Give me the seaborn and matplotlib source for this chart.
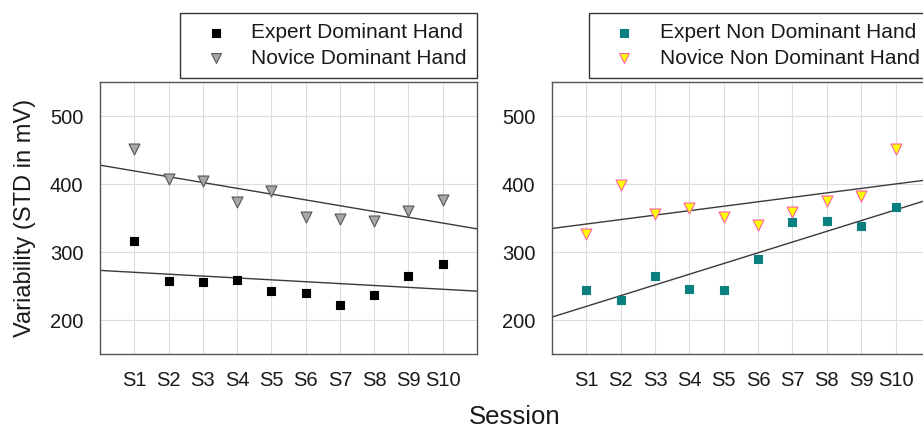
import matplotlib
matplotlib.use('Agg')
import matplotlib.pyplot as plt
import seaborn as sns
import numpy as np
import pandas as pd

# Datos
sessions = ['S1', 'S2', 'S3', 'S4', 'S5', 'S6', 'S7', 'S8', 'S9', 'S10']
session_num = [1, 2, 3, 4, 5, 6, 7, 8, 9, 10]
expert_dom = [316, 257, 256, 259, 243, 240, 222, 237, 264, 283]
novice_dom = [452, 407, 404, 373, 389, 352, 349, 346, 361, 376]
expert_nondom = [244, 230, 264, 245, 244, 290, 344, 345, 338, 366]
novice_nondom = [326, 399, 356, 365, 352, 340, 359, 375, 382, 452]

sns.set_style('whitegrid')
plt.rcParams['font.family'] = ['Liberation Sans', 'DejaVu Sans']

fig = plt.figure(figsize=(9.23, 4.30), dpi=100)
ax1 = fig.add_axes([0.1083, 0.1767, 0.4085, 0.6326])
ax2 = fig.add_axes([0.598, 0.1767, 0.4095, 0.6326])

panels = [
    (ax1, [('Expert Dominant Hand', expert_dom, 's', 'black', 'black', 40),
           ('Novice Dominant Hand', novice_dom, 'v', '#a8a8a8', '#555555', 62)]),
    (ax2, [('Expert Non Dominant Hand', expert_nondom, 's', '#0a8080', '#0a8080', 40),
           ('Novice Non Dominant Hand', novice_nondom, 'v', '#ffff00', '#ff5fa0', 62)]),
]

for ax, series in panels:
    ax.set_xlim(0, 11)
    ax.set_ylim(150, 550)
    for label, vals, marker, fc, ec, size in series:
        df = pd.DataFrame({'session': session_num, 'value': vals})
        # recta de regresion a lo ancho de todo el eje
        sns.regplot(data=df, x='session', y='value', ax=ax, scatter=False, ci=None,
                    truncate=False, color='#3a3a3a', line_kws={'linewidth': 1.0})
        sns.scatterplot(data=df, x='session', y='value', ax=ax, marker=marker,
                        color=fc, edgecolor=ec, linewidth=0.8, s=size, label=label,
                        zorder=3)
    ax.set_xlim(0, 11)
    ax.set_ylim(150, 550)
    ax.set_xticks(session_num)
    ax.set_xticklabels(sessions)
    ax.set_yticks([200, 300, 400, 500])
    ax.set_xlabel('')
    ax.set_ylabel('')
    ax.grid(True, color='#dcdcdc', linewidth=0.8)
    ax.tick_params(axis='both', labelsize=14.5, colors='#1a1a1a', length=4,
                   width=0.8, direction='out', pad=8)
    ax.tick_params(axis='both', color='#555555')
    for sp in ax.spines.values():
        sp.set_color('#555555')
        sp.set_linewidth(1.0)
    leg = ax.legend(loc='lower right', bbox_to_anchor=(1.0, 1.015), borderaxespad=0,
                    fontsize=15, frameon=True, fancybox=False, handletextpad=0.5,
                    borderpad=0.5, labelspacing=0.3, handlelength=2.4,
                    markerscale=0.9)
    for t in leg.get_texts():
        t.set_color('#1a1a1a')
    leg.get_frame().set_edgecolor('#333333')
    leg.get_frame().set_linewidth(1.0)
    leg.get_frame().set_alpha(1.0)

ax1.set_ylabel('Variability (STD in mV)', fontsize=17, labelpad=10, color='#1a1a1a')
fig.text(0.558, 0.03, 'Session', fontsize=18.5, ha='center', va='center', color='#1a1a1a')

fig.savefig('out.png', dpi=100)
